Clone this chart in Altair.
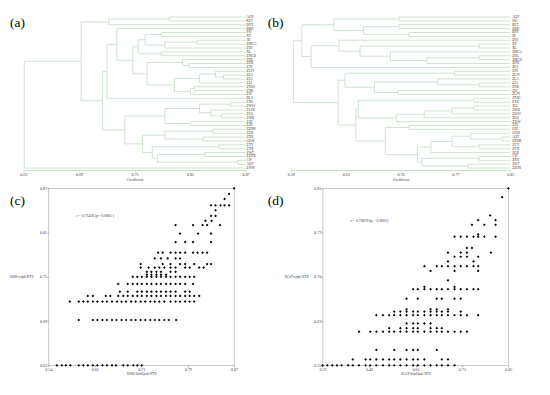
import altair as alt
import pandas as pd

FONT = "Liberation Serif"
LINE = "#c2dcc2"
TXT = "#3a3a3a"

# ---------------- (a) ISSR dendrogram ----------------
A_LEAVES = ["AQY", "KLT", "BHY", "BBD", "PSJ", "XY", "JB", "ZMCA", "ZHJ", "XL",
            "ZMCB", "ZHL", "ZHX", "ZJN", "ZLJY", "ZLA", "ZJA", "ZLL", "ZNJD", "ZNB",
            "ZSJ", "BLS", "EXZ", "ZWSJ", "ZLJN", "ZLQ", "ZWB", "ZJH", "EZP", "ZZSM",
            "ZGR", "ZXX", "GQW", "ZYY", "ZYX", "ZWT", "ZZHX", "CW", "AQT", "ZWW"]
A_TOP = (0.716, (0.784, "AQY", "KLT"), "BHY")
A_P = (0.749, (0.757, (0.775, "PSJ", "XY"), (0.779, (0.815, "JB", "ZMCA"), "ZHJ")),
       (0.775, "XL", "ZMCB"))
A_Q = (0.759, (0.799, "ZHL", (0.806, "ZHX", "ZJN")),
       (0.790, (0.818, (0.836, "ZLJY", (0.845, "ZLA", "ZJA")), "ZLL"),
        (0.808, (0.812, "ZNJD", "ZNB"), "ZSJ")))
A_C1 = (0.714, (0.725, "BBD", (0.743, A_P, A_Q)), "BLS")
A_C2A = (0.779, (0.818, (0.853, "EXZ", "ZWSJ"), (0.831, "ZLJN", (0.843, "ZLQ", "ZWB"))),
         (0.808, "ZJH", "EZP"))
A_C2B = (0.754, (0.779, (0.833, "ZZSM", "ZGR"), (0.822, "ZXX", "GQW")),
         (0.765, (0.840, "ZYY", "ZYX"), (0.771, (0.824, "ZWT", "ZZHX"), (0.861, "CW", "AQT"))))
A_TREE = (0.621, (0.685, A_TOP, (0.709, A_C1, (0.734, A_C2A, A_C2B))), "ZWW")
A_DOMAIN = [0.62, 0.87]
A_TICKS = [0.62, 0.6825, 0.745, 0.8075, 0.87]
A_TICK_LABELS = ["0.62", "0.69", "0.75", "0.81", "0.87"]

# ---------------- (b) SCoT dendrogram ----------------
B_LEAVES = ["AQY", "PSJ", "KLT", "BBD", "BHY", "JB", "ZHJ", "XY", "XL", "ZMCA",
            "ZHL", "ZMCB", "ZHX", "BLS", "ZJN", "ZLJY", "ZLA", "ZJA", "ZNB", "ZSJ",
            "ZLJN", "ZNJD", "EXZ", "ZLL", "ZWB", "ZWSJ", "ZLQ", "ZWW", "ZJH", "EZP",
            "GQW", "AQT", "ZZSM", "ZYY", "ZYX", "ZGR", "CW", "ZXX", "ZWT", "ZZHX"]
B_T1 = (0.641, (0.718, "AQY", "PSJ"), (0.676, (0.718, "KLT", "BBD"), (0.730, "BHY", "JB")))
B_T2C = (0.708, "ZMCA", (0.751, (0.813, "ZHL", "ZMCB"), "ZHX"))
B_T2 = (0.614, (0.647, "ZHJ", (0.672, (0.813, "XY", "XL"), B_T2C)), "BLS")
B_U1 = (0.654, (0.784, "ZJN", "ZLJY"),
        (0.689, (0.764, "ZLA", (0.813, "ZJA", "ZNB")), (0.717, "ZSJ", "ZLJN")))
B_U2A = (0.670, (0.807, "ZNJD", "EXZ"),
         (0.715, (0.748, (0.781, (0.807, "ZLL", "ZWB"), "ZWSJ"), "ZLQ"), "ZWW"))
B_U2D = (0.756, (0.781, (0.803, "GQW", (0.841, "AQT", "ZZSM")), (0.813, "ZYY", "ZYX")), "ZGR")
B_U2E = (0.745, (0.813, "CW", "ZXX"), (0.800, "ZWT", "ZZHX"))
B_U2B = (0.702, (0.730, "ZJH", "EZP"), (0.740, B_U2D, B_U2E))
B_TREE = (0.593, (0.603, B_T1, B_T2), (0.646, B_U1, (0.667, B_U2A, B_U2B)))
B_DOMAIN = [0.59, 0.85]
B_TICKS = [0.59, 0.655, 0.72, 0.785, 0.85]
B_TICK_LABELS = ["0.59", "0.63", "0.70", "0.77", "0.85"]

# ---------------- (c) ISSR Mantel scatter ----------------
C_ROWS = [
    (0.620, [0.555, 0.564, 0.571, 0.579, 0.594, 0.602, 0.610, 0.619, 0.627, 0.636, 0.644,
             0.653, 0.660, 0.673, 0.681, 0.691, 0.698, 0.706]),
    (0.684, [0.594, 0.619, 0.627, 0.636, 0.644, 0.653, 0.661, 0.670, 0.678, 0.687, 0.695,
             0.704, 0.712, 0.721, 0.729, 0.737, 0.746, 0.754, 0.767]),
    (0.710, [0.578, 0.594, 0.602, 0.610, 0.619, 0.627, 0.636, 0.644, 0.653, 0.662, 0.670,
             0.678, 0.687, 0.695, 0.704, 0.712, 0.721, 0.729, 0.737, 0.746, 0.757, 0.766,
             0.774, 0.783, 0.791, 0.799]),
    (0.718, [0.610, 0.619, 0.642, 0.650, 0.664, 0.673, 0.681, 0.690, 0.698, 0.706, 0.715,
             0.723, 0.732, 0.740, 0.749, 0.757, 0.766, 0.774, 0.783, 0.791, 0.799, 0.808]),
    (0.724, [0.667, 0.681, 0.698, 0.706, 0.715, 0.723, 0.732, 0.740, 0.749, 0.757, 0.766,
             0.783, 0.791]),
    (0.735, [0.664, 0.681, 0.690, 0.698, 0.706, 0.715, 0.723, 0.732, 0.740, 0.749, 0.757,
             0.766, 0.774, 0.783, 0.797]),
    (0.745, [0.690, 0.698, 0.706, 0.715, 0.723, 0.732, 0.740, 0.749, 0.757, 0.766, 0.774,
             0.783, 0.791, 0.799]),
    (0.748, [0.715, 0.723, 0.732, 0.740, 0.749]),
    (0.752, [0.715, 0.723, 0.732, 0.740, 0.757, 0.766]),
    (0.758, [0.704, 0.718, 0.729, 0.737, 0.746, 0.757, 0.766, 0.783, 0.791, 0.808, 0.816]),
    (0.763, [0.704, 0.743, 0.757, 0.774, 0.783, 0.799, 0.822, 0.829]),
    (0.771, [0.729, 0.740, 0.752, 0.766, 0.774]),
    (0.779, [0.735, 0.743, 0.757, 0.766, 0.774, 0.783, 0.797, 0.805, 0.814, 0.822]),
    (0.794, [0.766, 0.783, 0.797, 0.829]),
    (0.806, [0.774, 0.806, 0.829]),
    (0.818, [0.766, 0.797, 0.814, 0.822, 0.845]),
    (0.824, [0.819, 0.830]),
    (0.831, [0.829, 0.837]),
    (0.839, [0.837]),
    (0.846, [0.829, 0.837, 0.846, 0.853, 0.861]),
    (0.855, [0.853]),
    (0.862, [0.861]),
    (0.870, [0.870]),
]
C_XDOMAIN = [0.54, 0.87]
C_YDOMAIN = [0.62, 0.87]
C_XTICKS = [0.54, 0.6225, 0.705, 0.7875, 0.87]
C_XTICK_LABELS = ["0.54", "0.62", "0.71", "0.79", "0.87"]
C_YTICKS = [0.62, 0.6825, 0.745, 0.8075, 0.87]
C_YTICK_LABELS = ["0.62", "0.69", "0.75", "0.81", "0.87"]
C_NOTE = "r = 0.71436   (p= 0.0001 )"

# ---------------- (d) SCoT Mantel scatter ----------------
D_ROWS = [
    (0.550, [0.370, 0.382, 0.395, 0.407, 0.419, 0.436, 0.448, 0.464, 0.481, 0.493, 0.509,
             0.526, 0.542, 0.555, 0.571, 0.587, 0.604, 0.616, 0.633, 0.649, 0.665, 0.678,
             0.694, 0.711]),
    (0.560, [0.448, 0.481, 0.493, 0.509, 0.526, 0.542, 0.555, 0.571, 0.587, 0.604, 0.616,
             0.633, 0.678, 0.694]),
    (0.576, [0.509, 0.555, 0.587, 0.604, 0.616, 0.665]),
    (0.607, [0.464, 0.493, 0.509, 0.526, 0.542, 0.555, 0.571, 0.587, 0.604, 0.616, 0.633,
             0.649, 0.665, 0.678, 0.694, 0.711, 0.727, 0.743]),
    (0.613, [0.542, 0.571, 0.587, 0.604, 0.616, 0.649, 0.665, 0.678]),
    (0.621, [0.587, 0.604, 0.616, 0.633, 0.649]),
    (0.635, [0.509, 0.526, 0.542, 0.555, 0.571, 0.587, 0.604, 0.616, 0.633, 0.649, 0.665,
             0.678, 0.694, 0.711, 0.727, 0.743, 0.772]),
    (0.641, [0.555, 0.571, 0.587, 0.604, 0.616, 0.633, 0.649, 0.665, 0.678, 0.694, 0.727]),
    (0.645, [0.587, 0.649, 0.665, 0.694]),
    (0.663, [0.587, 0.616, 0.665, 0.678, 0.711, 0.727]),
    (0.679, [0.604, 0.616, 0.633, 0.649, 0.665, 0.678, 0.694, 0.711, 0.727, 0.743, 0.760,
             0.772]),
    (0.683, [0.633, 0.711]),
    (0.694, [0.694]),
    (0.710, [0.649, 0.711, 0.772]),
    (0.718, [0.633, 0.665, 0.678, 0.694, 0.711, 0.727, 0.743, 0.760, 0.772]),
    (0.726, [0.694, 0.760]),
    (0.734, [0.711, 0.727, 0.743, 0.772]),
    (0.741, [0.694, 0.727, 0.743, 0.805]),
    (0.749, [0.743, 0.756]),
    (0.768, [0.711, 0.727, 0.743, 0.760, 0.772, 0.788, 0.817]),
    (0.772, [0.772]),
    (0.788, [0.756, 0.788, 0.817]),
    (0.796, [0.772, 0.817]),
    (0.804, [0.803]),
    (0.835, [0.834]),
    (0.850, [0.850]),
]
D_XDOMAIN = [0.37, 0.85]
D_YDOMAIN = [0.55, 0.85]
D_XTICKS = [0.37, 0.49, 0.61, 0.73, 0.85]
D_XTICK_LABELS = ["0.37", "0.49", "0.61", "0.73", "0.85"]
D_YTICKS = [0.55, 0.625, 0.70, 0.775, 0.85]
D_YTICK_LABELS = ["0.55", "0.63", "0.70", "0.77", "0.85"]
D_NOTE = "r = 0.70829   (p = 0.0001)"

# panel geometry (pixels); columns of the 2x2 grid are aligned, so both
# cells of a column share the same left edge
DEN_H = 161
SC_W, SC_H = 193, 184


def label_expr(values, labels):
    names = ",".join("'" + s + "'" for s in labels)
    vals = ",".join(repr(v) for v in values)
    return "[" + names + "][indexof([" + vals + "], datum.value)]"


def segments(tree, leaves, leaf_x):
    pos = {n: i for i, n in enumerate(leaves)}
    segs = []

    def rec(node):
        if isinstance(node, str):
            return pos[node], leaf_x
        h, left, right = node
        yl, xl = rec(left)
        yr, xr = rec(right)
        segs.append((xl, h, yl, yl))
        segs.append((xr, h, yr, yr))
        segs.append((h, h, yl, yr))
        return (yl + yr) / 2, h

    rec(tree)
    return pd.DataFrame(segs, columns=["x", "x2", "y", "y2"])


def tag_layer(text, x, y):
    return alt.Chart(pd.DataFrame({"t": [text]})).mark_text(
        align="left", baseline="middle", fontSize=14, font=FONT, color="black"
    ).encode(x=alt.value(x), y=alt.value(y), text="t:N")


def dendro(tree, leaves, domain, ticks, tick_labels, xrange, width, tag, tag_x, label_x):
    seg = segments(tree, leaves, domain[1])
    xs = alt.Scale(domain=domain, range=xrange, nice=False, zero=False)
    ys = alt.Scale(domain=[0, len(leaves) - 1], range=[2, DEN_H - 2], nice=False, zero=False)
    lines = alt.Chart(seg).mark_rule(color=LINE, strokeWidth=0.8).encode(
        x=alt.X("x:Q", scale=xs, axis=alt.Axis(
            values=ticks, labelExpr=label_expr(ticks, tick_labels), title="Coefficient",
            grid=False, domainColor=LINE, tickColor=LINE, tickSize=1.5, labelFontSize=4.2,
            labelPadding=1, labelColor=TXT, labelFlush=False, titleFontSize=3.8,
            titlePadding=1, titleColor=TXT, titleFontWeight="normal")),
        x2="x2",
        y=alt.Y("y:Q", scale=ys, axis=None),
        y2="y2",
    )
    names = alt.Chart(pd.DataFrame({"i": list(range(len(leaves))), "name": leaves})).mark_text(
        align="left", baseline="middle", fontSize=3.5, font=FONT, color=TXT
    ).encode(x=alt.value(label_x), y=alt.Y("i:Q", scale=ys, axis=None), text="name:N")
    return alt.layer(lines, names, tag_layer(tag, tag_x, 8)).properties(
        width=width, height=DEN_H)


def scatter(rows, xdom, ydom, xt, xl, yt, yl, xtitle, ytitle, ytitle_x, tag, tag_x,
            note, note_x, note_y):
    df = pd.DataFrame([(x, y) for y, xs in rows for x in xs], columns=["x", "y"])
    common = dict(grid=False, domain=False, tickSize=1.5, tickColor="#999999",
                  labelFontSize=4.2, labelPadding=0.5, labelColor=TXT, labelFlush=False,
                  titleFontSize=3.8, titleColor=TXT, titleFontWeight="normal")
    pts = alt.Chart(df).mark_point(shape="diamond", filled=True, size=8, color="black",
                                   opacity=1).encode(
        x=alt.X("x:Q", scale=alt.Scale(domain=xdom, nice=False, zero=False),
                axis=alt.Axis(values=xt, labelExpr=label_expr(xt, xl), title=xtitle,
                              titlePadding=0.5, **common)),
        y=alt.Y("y:Q", scale=alt.Scale(domain=ydom, nice=False, zero=False),
                axis=alt.Axis(values=yt, labelExpr=label_expr(yt, yl), title=ytitle,
                              titleAngle=0, titleX=ytitle_x, titleY=SC_H / 2,
                              titleAlign="right", titleBaseline="middle", **common)),
    )
    txt = alt.Chart(pd.DataFrame({"t": [note]})).mark_text(
        align="left", baseline="middle", fontSize=4, font=FONT, color=TXT
    ).encode(x=alt.value(note_x), y=alt.value(note_y), text="t:N")
    return alt.layer(pts, txt, tag_layer(tag, tag_x, 13)).properties(
        width=SC_W, height=SC_H, view=alt.ViewBackground(stroke="#b0b0b0", strokeWidth=0.7))


# dendrogram plot ranges reach beyond their cells so that both columns line up
a = dendro(A_TREE, A_LEAVES, A_DOMAIN, A_TICKS, A_TICK_LABELS, [-26, 205], 193, "(a)", -40, 206)
b = dendro(B_TREE, B_LEAVES, B_DOMAIN, B_TICKS, B_TICK_LABELS, [-33, 195], 195, "(b)", -57, 197)
c = scatter(C_ROWS, C_XDOMAIN, C_YDOMAIN, C_XTICKS, C_XTICK_LABELS, C_YTICKS, C_YTICK_LABELS,
            "ISSR-SimQual.NTS", "ISSR-coph.NTS", -16, "(c)", -40, C_NOTE, 29, 29)
d = scatter(D_ROWS, D_XDOMAIN, D_YDOMAIN, D_XTICKS, D_XTICK_LABELS, D_YTICKS, D_YTICK_LABELS,
            "SCoT-SimQual.NTS", "SCoT-coph.NTS", -15, "(d)", -57, D_NOTE, 29, 34)

chart = alt.concat(a, b, c, d, columns=2, bounds="flush",
                   spacing={"row": 19, "column": 92}).properties(
    padding=0, background="white"
).configure_view(strokeWidth=0).configure_axis(labelFont=FONT, titleFont=FONT)

chart.save("out.html", embed_options={"renderer": "svg", "actions": False})
